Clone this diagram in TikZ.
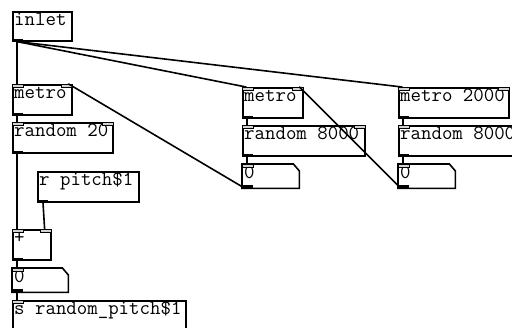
\documentclass[tikz,border=0pt]{standalone}
\usepackage{fontspec}
\begin{document}
\begin{tikzpicture}[x=1pt,y=-1pt,
  obj/.style={draw=black, line width=1.6pt, anchor=north west, inner sep=0pt, minimum height=30pt},
  numbox/.style={draw=none, anchor=north west, inner sep=0pt, minimum height=24pt, minimum width=#1},
  lbl/.style={anchor=base west, inner sep=0pt, font=\ttfamily\fontsize{20.3}{21}\selectfont, shift={(2pt,-15pt)}},
  inl/.style={fill=gray!35, draw=black, line width=0.7pt},
  outl/.style={fill=black},
  wire/.style={line width=1.6pt, line cap=round}]
\useasboundingbox (0,0) rectangle (512,328);
\clip (0,0) rectangle (512,328);
\fill[white] (0,0) rectangle (512,328);

% ---------- left column ----------
\node[obj, minimum width=59pt, minimum height=29pt] (inl) at (12,11) {};
\node[lbl] (tinl) at (inl.north west) {inlet};
\fill[outl] (inl.south west) rectangle ++(11,-3);

\node[obj, minimum width=59pt] (metL) at (12,84) {};
\node[lbl] (tmetL) at (metL.north west) {metro};
\filldraw[inl] (metL.north west) rectangle ++(11,3);
\filldraw[inl] (metL.north east) rectangle ++(-11,3);
\fill[outl] (metL.south west) rectangle ++(11,-3);

\node[obj, minimum width=100pt] (ranL) at (12,122) {};
\node[lbl] (tranL) at (ranL.north west) {random 20};
\filldraw[inl] (ranL.north west) rectangle ++(11,3);
\filldraw[inl] (ranL.north east) rectangle ++(-11,3);
\fill[outl] (ranL.south west) rectangle ++(11,-3);

\node[obj, minimum width=101pt] (rp) at (37,171) {};
\node[lbl] (trp) at (rp.north west) {r pitch\$1};
\fill[outl] (rp.south west) rectangle ++(11,-3);

\node[obj, minimum width=38pt] (plus) at (12,229) {};
\node[lbl] (tplus) at (plus.north west) {+};
\filldraw[inl] (plus.north west) rectangle ++(11,3);
\filldraw[inl] (plus.north east) rectangle ++(-11,3);
\fill[outl] (plus.south west) rectangle ++(11,-3);

\node[numbox=56pt] (numL) at (12,268) {};
\draw[line width=1.6pt] (numL.north west) -- ([xshift=-6pt]numL.north east) -- ([yshift=-7pt]numL.north east) -- (numL.south east) -- (numL.south west) -- cycle;
\node[lbl] (tnumL) at (numL.north west) {0};
\filldraw[inl] (numL.north west) rectangle ++(11,3);
\fill[outl] (numL.south west) rectangle ++(11,-3);

\node[obj, minimum width=173pt, minimum height=40pt] (snd) at (12,300) {};
\node[lbl] (tsnd) at (snd.north west) {s random\_pitch\$1};
\filldraw[inl] (snd.north west) rectangle ++(11,3);

% ---------- middle column ----------
\node[obj, minimum width=60pt] (metM) at (242,87) {};
\node[lbl] (tmetM) at (metM.north west) {metro};
\filldraw[inl] (metM.north west) rectangle ++(11,3);
\filldraw[inl] (metM.north east) rectangle ++(-11,3);
\fill[outl] (metM.south west) rectangle ++(11,-3);

\node[obj, minimum width=122pt] (ranM) at (242,125) {};
\node[lbl] (tranM) at (ranM.north west) {random 8000};
\filldraw[inl] (ranM.north west) rectangle ++(11,3);
\filldraw[inl] (ranM.north east) rectangle ++(-11,3);
\fill[outl] (ranM.south west) rectangle ++(11,-3);

\node[numbox=57pt] (numM) at (242,164) {};
\draw[line width=1.6pt] (numM.north west) -- ([xshift=-6pt]numM.north east) -- ([yshift=-7pt]numM.north east) -- (numM.south east) -- (numM.south west) -- cycle;
\node[lbl] (tnumM) at (numM.north west) {0};
\filldraw[inl] (numM.north west) rectangle ++(11,3);
\fill[outl] (numM.south west) rectangle ++(11,-3);

% ---------- right column ----------
\node[obj, minimum width=110pt] (metR) at (398,87) {};
\node[lbl] (tmetR) at (metR.north west) {metro 2000};
\filldraw[inl] (metR.north west) rectangle ++(11,3);
\filldraw[inl] (metR.north east) rectangle ++(-11,3);
\fill[outl] (metR.south west) rectangle ++(11,-3);

\node[obj, minimum width=130pt] (ranR) at (398,125) {};
\node[lbl] (tranR) at (ranR.north west) {random 8000};
\filldraw[inl] (ranR.north west) rectangle ++(11,3);
\fill[outl] (ranR.south west) rectangle ++(11,-3);

\node[numbox=57pt] (numR) at (398,164) {};
\draw[line width=1.6pt] (numR.north west) -- ([xshift=-6pt]numR.north east) -- ([yshift=-7pt]numR.north east) -- (numR.south east) -- (numR.south west) -- cycle;
\node[lbl] (tnumR) at (numR.north west) {0};
\filldraw[inl] (numR.north west) rectangle ++(11,3);
\fill[outl] (numR.south west) rectangle ++(11,-3);

% ---------- connections ----------
\draw[wire] ([xshift=5pt]inl.south west) -- ([xshift=5pt]metL.north west);
\draw[wire] ([xshift=5pt]inl.south west) -- ([xshift=4pt]metM.north west);
\draw[wire] ([xshift=5pt]inl.south west) -- ([xshift=4pt]metR.north west);
\draw[wire] ([xshift=5pt]metL.south west) -- ([xshift=5pt]ranL.north west);
\draw[wire] ([xshift=5pt]ranL.south west) -- ([xshift=5pt]plus.north west);
\draw[wire] ([xshift=6pt]rp.south west) -- ([xshift=-7pt]plus.north east);
\draw[wire] ([xshift=5pt]plus.south west) -- ([xshift=5pt]numL.north west);
\draw[wire] ([xshift=5pt]numL.south west) -- ([xshift=5pt]snd.north west);
\draw[wire] ([xshift=3pt]numM.south west) -- ([xshift=-4pt]metL.north east);
\draw[wire] ([xshift=5pt]metM.south west) -- ([xshift=5pt]ranM.north west);
\draw[wire] ([xshift=5pt]ranM.south west) -- ([xshift=5pt]numM.north west);
\draw[wire] ([xshift=3pt]numR.south west) -- ([xshift=-4pt]metM.north east);
\draw[wire] ([xshift=5pt]metR.south west) -- ([xshift=5pt]ranR.north west);
\draw[wire] ([xshift=5pt]ranR.south west) -- ([xshift=5pt]numR.north west);
\end{tikzpicture}
\end{document}
